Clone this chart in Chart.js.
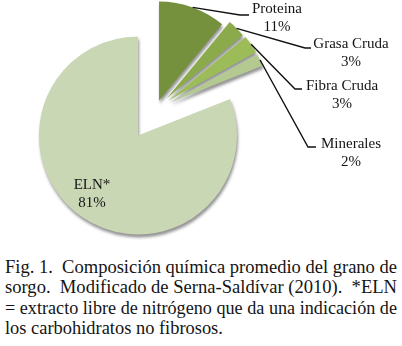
<!DOCTYPE html>
<html>
<head>
<meta charset="utf-8">
<title>Composición química del grano de sorgo</title>
<script src="https://cdn.jsdelivr.net/npm/chart.js@4.4.0/dist/chart.umd.min.js"></script>
<style>
  html, body { margin: 0; padding: 0; background: #fff; }
  #wrap { position: absolute; left: 0; top: 0; width: 402px; height: 240px; }
  #caption {
    position: absolute; left: 5px; top: 257px; width: 392px;
    font-family: "Liberation Serif", "Times New Roman", Times, Tinos, "DejaVu Serif", serif;
    font-size: 18.5px; line-height: 20.3px; color: #141414;
  }
  #caption div { white-space: nowrap; }
  #caption span { display: inline-block; transform-origin: 0 50%; }
</style>
</head>
<body>
<div id="wrap"><canvas id="pieChart"></canvas></div>
<div id="caption">
  <div><span>Fig. 1.&nbsp; Composición química promedio del grano de</span></div>
  <div><span>sorgo.&nbsp; Modificado de Serna-Saldívar (2010).&nbsp; *ELN</span></div>
  <div><span>= extracto libre de nitrógeno que da una indicación de</span></div>
  <div><span>los carbohidratos no fibrosos.</span></div>
</div>
<script>
(function () {
  'use strict';

  var categories = ['Proteina', 'Grasa Cruda', 'Fibra Cruda', 'Minerales', 'ELN*'];
  var percents = [11, 3, 3, 2, 81];
  var sliceColors = ['#76913d', '#8baa4c', '#9cbc5a', '#b3c98f', '#c9d7b5'];
  // how far each slice is pulled out of the pie, px
  var explode = [9, 15, 16, 16, 32];
  // label text centre, then leader elbow and end (null = label sits inside the slice)
  var labelLayout = [
    { x: 277, y: 9, elbow: [240, 15], end: [249, 15] },
    { x: 351, y: 44, elbow: [305, 48], end: [311, 48] },
    { x: 342, y: 86, elbow: [295, 89], end: [302, 89] },
    { x: 351, y: 144, elbow: [308, 147], end: [316, 147] },
    { x: 92, y: 185, elbow: null, end: null }
  ];
  var labelFont = '15px "Liberation Serif", "Times New Roman", Times, Tinos, "DejaVu Serif", serif';

  // caption lines are justified to the column width in the original
  var captionWidth = 392;
  var spans = document.querySelectorAll('#caption span');
  var scaleSum = 0;
  for (var s = 0; s < spans.length - 1; s++) {
    var k = captionWidth / spans[s].getBoundingClientRect().width;
    spans[s].style.transform = 'scaleX(' + k + ')';
    scaleSum += k;
  }
  spans[spans.length - 1].style.transform = 'scaleX(' + (scaleSum / (spans.length - 1)) + ')';

  var explodePlugin = {
    id: 'explode',
    beforeDatasetsDraw: function (chart) {
      var area = chart.chartArea;
      var cx = (area.left + area.right) / 2;
      var cy = (area.top + area.bottom) / 2;
      chart.getDatasetMeta(0).data.forEach(function (arc, i) {
        var mid = (arc.startAngle + arc.endAngle) / 2;
        arc.x = cx + Math.cos(mid) * explode[i];
        arc.y = cy + Math.sin(mid) * explode[i];
      });
    },
    beforeDatasetDraw: function (chart) {
      var ctx = chart.ctx;
      ctx.save();
      ctx.shadowColor = 'rgba(60, 60, 60, 0.55)';
      ctx.shadowBlur = 3;
      ctx.shadowOffsetX = 1;
      ctx.shadowOffsetY = 3;
    },
    afterDatasetDraw: function (chart) {
      chart.ctx.restore();
    }
  };

  var labelPlugin = {
    id: 'pieLabels',
    afterDraw: function (chart) {
      var ctx = chart.ctx;
      var arcs = chart.getDatasetMeta(0).data;
      ctx.save();
      ctx.strokeStyle = '#111';
      ctx.lineWidth = 1.4;
      ctx.fillStyle = '#141414';
      ctx.font = labelFont;
      ctx.textAlign = 'center';
      ctx.textBaseline = 'middle';
      labelLayout.forEach(function (lab, i) {
        if (lab.elbow) {
          var arc = arcs[i];
          var mid = (arc.startAngle + arc.endAngle) / 2;
          var r = arc.outerRadius;
          ctx.beginPath();
          ctx.moveTo(arc.x + Math.cos(mid) * r, arc.y + Math.sin(mid) * r);
          ctx.lineTo(lab.elbow[0], lab.elbow[1]);
          ctx.lineTo(lab.end[0], lab.end[1]);
          ctx.stroke();
        }
        ctx.fillText(categories[i], lab.x, lab.y);
        ctx.fillText(percents[i] + '%', lab.x, lab.y + 18);
      });
      ctx.restore();
    }
  };

  new Chart(document.getElementById('pieChart'), {
    type: 'pie',
    data: {
      labels: categories,
      datasets: [{
        data: percents,
        backgroundColor: sliceColors,
        borderWidth: 0
      }]
    },
    options: {
      responsive: true,
      maintainAspectRatio: false,
      devicePixelRatio: 1,
      animation: false,
      radius: 99,
      layout: { padding: { left: 0, right: 90, top: 0, bottom: 22 } },
      plugins: {
        legend: { display: false },
        tooltip: { enabled: false }
      }
    },
    plugins: [explodePlugin, labelPlugin]
  });
})();
</script>
</body>
</html>
